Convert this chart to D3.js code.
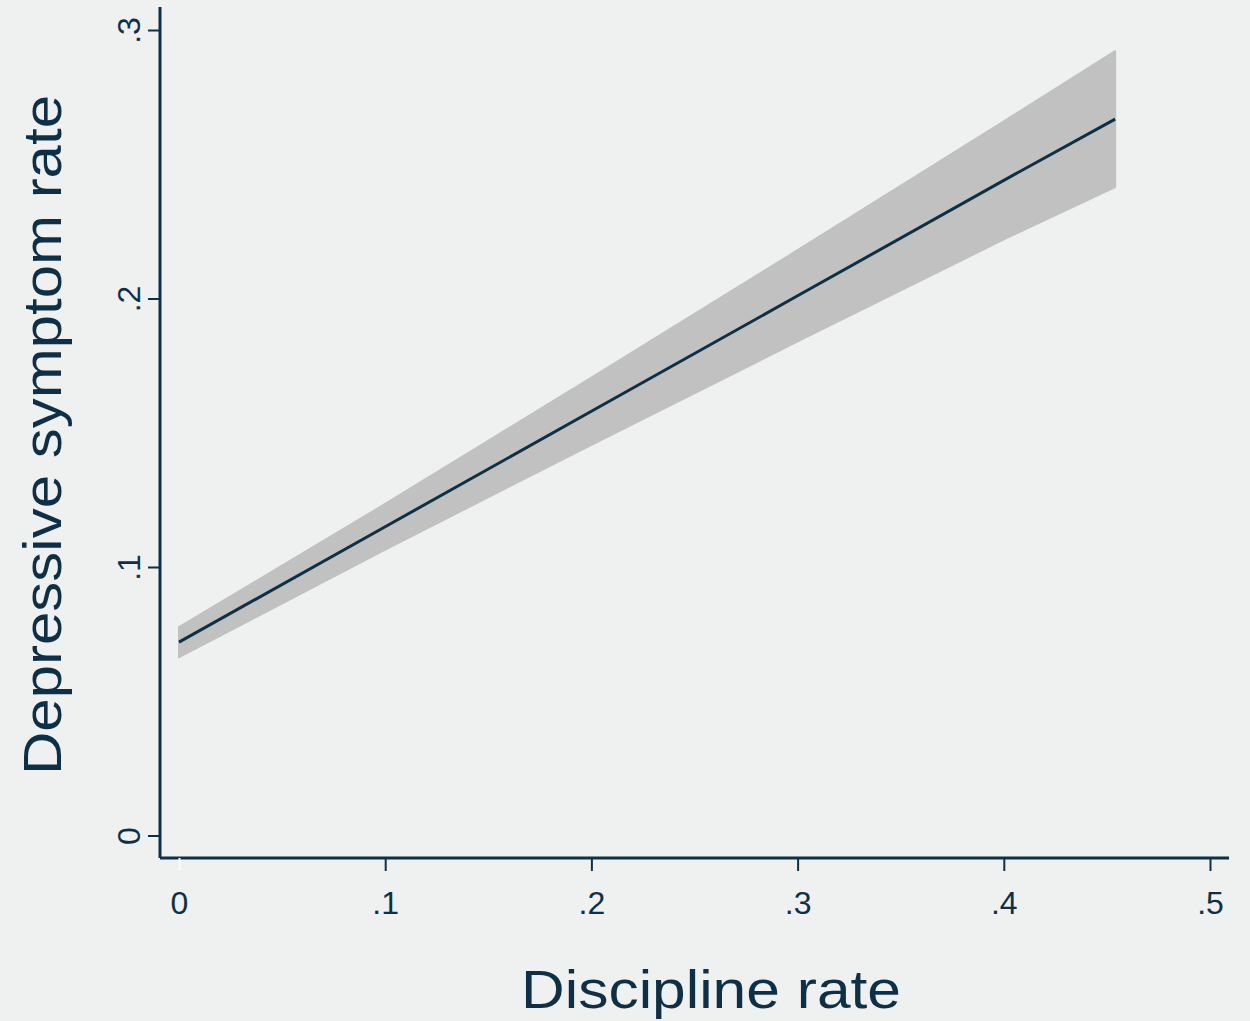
<!DOCTYPE html>
<html>
<head>
<meta charset="utf-8">
<script src="https://cdn.jsdelivr.net/npm/d3@7.9.0/dist/d3.min.js"></script>
<style>
  html, body { margin: 0; padding: 0; background: #eff0f0; }
  svg { display: block; font-family: 'Liberation Sans', Arial, sans-serif; }
</style>
</head>
<body>
<svg width="1250" height="1021"></svg>
<script>
// discipline rate (x) and predicted depressive symptom rate with 95% CI
const disciplineRate = [0, 0.1, 0.2, 0.3, 0.4, 0.454];
const fitted = [0.0720, 0.1150, 0.1580, 0.2010, 0.2440, 0.2668];
const upperCI = [0.0776, 0.1235, 0.1705, 0.2180, 0.2660, 0.2921];
const lowerCI = [0.0664, 0.1065, 0.1455, 0.1840, 0.2220, 0.2415];

const xTicks = [0, 0.1, 0.2, 0.3, 0.4, 0.5];
const yTicks = [0, 0.1, 0.2, 0.3];
const fmt = (d) => d === 0 ? '0' : String(d).replace(/^0/, '');

const ink = '#0e3047';
const svg = d3.select('svg');

const x = d3.scaleLinear().domain([0, 0.5]).range([179, 1210]);
const y = d3.scaleLinear().domain([0, 0.3]).range([835.5, 30]);

const pts = disciplineRate.map((d, i) => ({ x: d, fit: fitted[i], hi: upperCI[i], lo: lowerCI[i] }));

// confidence band
let area = d3.area()
  .x((d) => x(d.x))
  .y0((d) => y(d.lo))
  .y1((d) => y(d.hi));

svg.append('path')
  .attr('d', area(pts))
  .attr('fill', '#c1c1c1')
  .attr('stroke', '#c1c1c1')
  .attr('stroke-width', 2)
  .attr('stroke-linejoin', 'round');

// fitted line
let line = d3.line().x((d) => x(d.x)).y((d) => y(d.fit));
svg.append('path')
  .attr('d', line(pts))
  .attr('fill', 'none')
  .attr('stroke', ink)
  .attr('stroke-width', 3);

// axes
const xAxisY = 858;
const yAxisX = 160;

let xAxis = d3.axisBottom(x).tickValues(xTicks).tickFormat(fmt).tickSize(13).tickSizeOuter(0);
let gx = svg.append('g').attr('transform', `translate(0,${xAxisY})`).call(xAxis);
gx.select('.domain').attr('d', `M${yAxisX},0H1229`);
gx.selectAll('.tick line').attr('stroke', (d) => d === 0 ? '#fafafa' : ink).attr('stroke-width', 2);
gx.selectAll('.tick text')
  .attr('y', 56)
  .attr('dy', null)
  .attr('fill', ink)
  .attr('font-size', 32)
  .attr('font-family', "'Liberation Sans', Arial, sans-serif");

let yAxis = d3.axisLeft(y).tickValues(yTicks).tickFormat(fmt).tickSize(12).tickSizeOuter(0);
let gy = svg.append('g').attr('transform', `translate(${yAxisX},0)`).call(yAxis);
gy.select('.domain').attr('d', `M0,7V${xAxisY}`);
gy.selectAll('.tick line').attr('stroke', ink).attr('stroke-width', 2);
gy.selectAll('.tick text')
  .attr('x', null)
  .attr('dy', null)
  .attr('transform', 'translate(-20,0) rotate(-90)')
  .attr('text-anchor', 'middle')
  .attr('fill', ink)
  .attr('font-size', 32)
  .attr('font-family', "'Liberation Sans', Arial, sans-serif");

svg.selectAll('.domain').attr('stroke', ink).attr('stroke-width', 3);

// axis titles
svg.append('text')
  .attr('x', 711)
  .attr('y', 1008)
  .attr('text-anchor', 'middle')
  .attr('fill', ink)
  .attr('font-size', 54)
  .attr('textLength', 380)
  .attr('lengthAdjust', 'spacingAndGlyphs')
  .text('Discipline rate');

svg.append('text')
  .attr('transform', 'translate(61,435) rotate(-90)')
  .attr('text-anchor', 'middle')
  .attr('fill', ink)
  .attr('font-size', 54)
  .attr('textLength', 680)
  .attr('lengthAdjust', 'spacingAndGlyphs')
  .text('Depressive symptom rate');
</script>
</body>
</html>
